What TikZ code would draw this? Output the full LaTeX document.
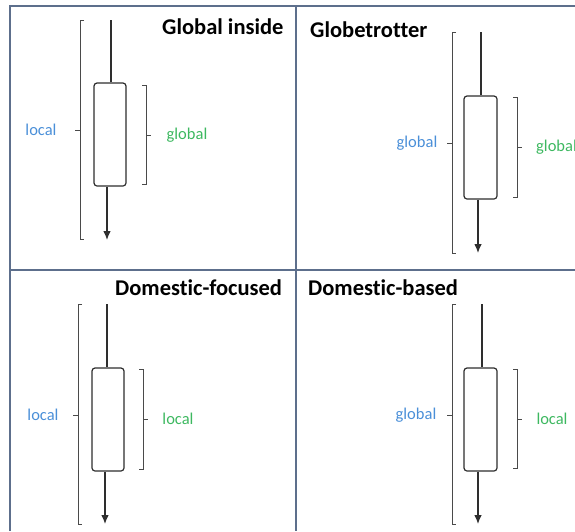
\documentclass[tikz,border=0pt]{standalone}
\usepackage{fontspec}
\setmainfont[Ligatures=NoCommon]{Carlito}
\usetikzlibrary{arrows.meta}
\definecolor{gridc}{HTML}{5D6F8C}
\definecolor{lblue}{HTML}{4A8FD8}
\definecolor{lgreen}{HTML}{3DB860}
\definecolor{boxc}{HTML}{2E2E2E}
\definecolor{brc}{HTML}{4A4A4A}
\begin{document}
\begin{tikzpicture}[x=1pt,y=-1pt,
  gridline/.style={draw=gridc,line width=1.5pt},
  candle/.style={draw=boxc,line width=1.2pt,rounded corners=3pt,inner sep=0pt,fill=white},
  wick/.style={draw=boxc,line width=1.1pt},
  arrowline/.style={draw=boxc,line width=1.1pt,-{Latex[length=9pt,width=7.5pt]}},
  bracket/.style={draw=brc,line width=0.9pt},
  title/.style={font=\bfseries\fontsize{22.5}{24}\selectfont,anchor=west,inner sep=0pt},
  bluelbl/.style={text=lblue,font=\fontsize{16.5}{18}\selectfont,inner sep=0pt},
  greenlbl/.style={text=lgreen,font=\fontsize{16.5}{18}\selectfont,inner sep=0pt}]
\useasboundingbox (0,0) rectangle (575,531);
\clip (0,0) rectangle (575,531);
% table grid
\coordinate (g1) at (10,6);
\coordinate (g2) at (575,6);
\coordinate (g3) at (10,531);
\coordinate (g4) at (296,6);
\coordinate (g5) at (296,531);
\coordinate (g6) at (10,270);
\coordinate (g7) at (575,270);
\draw[gridline] (g3) -- (g1) -- (g2);
\draw[gridline] (g4) -- (g5);
\draw[gridline] (g6) -- (g7);

% ---------- Panel 1: Global inside
\node[title] (ttl1) at (162,27) {Global inside};
\node[candle,minimum width=32pt,minimum height=103pt] (b1) at (110,134.5) {};
\coordinate (t1) at (111,20);
\coordinate (e1) at (107,240);
\draw[wick] (t1) -- (t1 |- b1.north);
\draw[arrowline] (b1.south -| e1) -- (e1);
\draw[bracket] (84,20) -- (80,20) -- (80,239) -- (84,239);
\draw[bracket] (80,130) -- (75,130);
\node[bluelbl] (l1) at (41,130) {local};
\draw[bracket] (142,85) -- (146,85) -- (146,184) -- (142,184);
\draw[bracket] (146,135) -- (151,135);
\node[greenlbl] (r1) at (187,135) {global};

% ---------- Panel 2: Globetrotter
\node[title] (ttl2) at (310,30) {Globetrotter};
\node[candle,minimum width=33pt,minimum height=103pt] (b2) at (480.5,147.5) {};
\coordinate (t2) at (481,32);
\coordinate (e2) at (478,253);
\draw[wick] (t2) -- (t2 |- b2.north);
\draw[arrowline] (b2.south -| e2) -- (e2);
\draw[bracket] (456,32) -- (452,32) -- (452,253) -- (456,253);
\draw[bracket] (452,143) -- (447,143);
\node[bluelbl] (l2) at (417,143) {global};
\draw[bracket] (513,97) -- (517,97) -- (517,197) -- (513,197);
\draw[bracket] (517,147) -- (522,147);
\node[greenlbl,anchor=west] (r2) at (536,147) {global};

% ---------- Panel 3: Domestic-focused
\node[title] (ttl3) at (115,288) {Domestic-focused};
\node[candle,minimum width=32pt,minimum height=103pt] (b3) at (108,419.5) {};
\coordinate (t3) at (107,304);
\coordinate (e3) at (105,524);
\draw[wick] (t3) -- (t3 |- b3.north);
\draw[arrowline] (b3.south -| e3) -- (e3);
\draw[bracket] (82,304) -- (78,304) -- (78,524) -- (82,524);
\draw[bracket] (78,415) -- (73,415);
\node[bluelbl] (l3) at (43,415) {local};
\draw[bracket] (139,369) -- (143,369) -- (143,469) -- (139,469);
\draw[bracket] (143,419) -- (148,419);
\node[greenlbl] (r3) at (178,419) {local};

% ---------- Panel 4: Domestic-based
\node[title] (ttl4) at (308,288) {Domestic-based};
\node[candle,minimum width=33pt,minimum height=103pt] (b4) at (480.5,419.5) {};
\coordinate (t4) at (482,304);
\coordinate (e4) at (478,524);
\draw[wick] (t4) -- (t4 |- b4.north);
\draw[arrowline] (b4.south -| e4) -- (e4);
\draw[bracket] (456,304) -- (452,304) -- (452,524) -- (456,524);
\draw[bracket] (452,415) -- (447,415);
\node[bluelbl] (l4) at (416,415) {global};
\draw[bracket] (513,369) -- (517,369) -- (517,468) -- (513,468);
\draw[bracket] (517,419) -- (522,419);
\node[greenlbl] (r4) at (552,419) {local};
\end{tikzpicture}
\end{document}
